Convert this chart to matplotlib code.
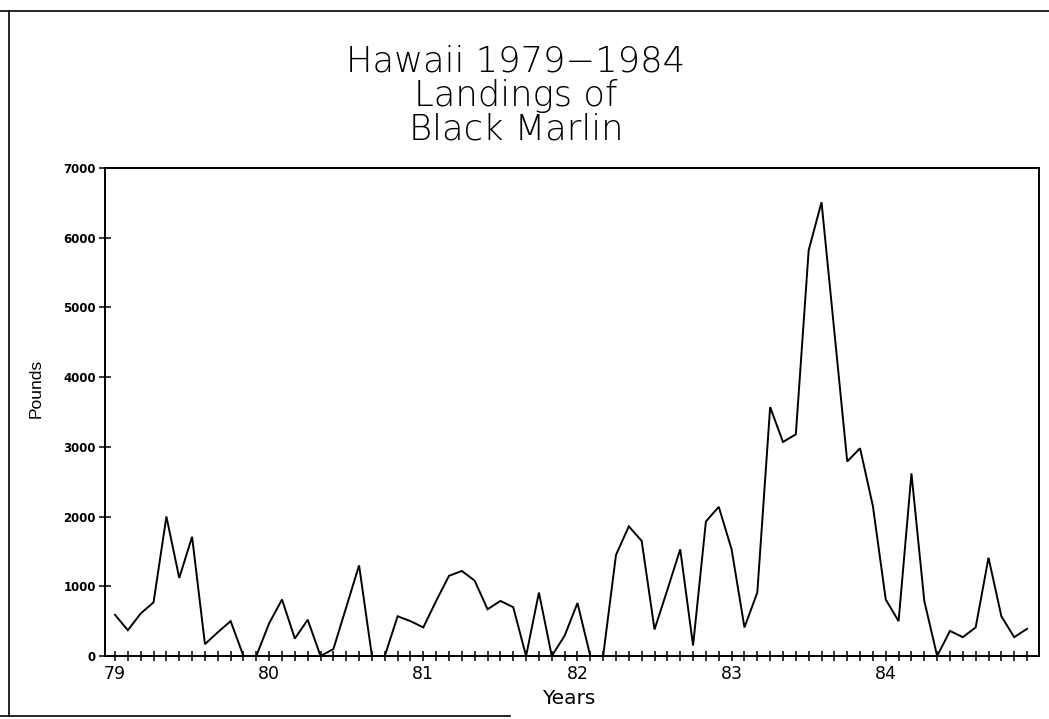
import matplotlib
matplotlib.use("Agg")
import matplotlib.pyplot as plt
from matplotlib.lines import Line2D
import numpy as np

# ---- data (monthly landings, Jan 1979 - Dec 1984) ----
pounds = [590, 370, 610, 770, 2000, 1120, 1710, 170, 340, 500, 0, 0,
          470, 810, 250, 520, 0, 100, 700, 1300, 0, 0, 570, 500,
          410, 790, 1150, 1220, 1080, 670, 790, 700, 0, 910, 0, 290,
          760, 0, 0, 1450, 1860, 1650, 380, 950, 1530, 150, 1930, 2140,
          1530, 410, 910, 3570, 3070, 3180, 5820, 6510, 4650, 2790, 2980, 2150,
          810, 500, 2620, 790, 0, 360, 270, 410, 1410, 570, 270, 390]
start_year = 79
year_labels = ["79", "80", "81", "82", "83", "84"]
y_ticks = [0, 1000, 2000, 3000, 4000, 5000, 6000, 7000]

title_lines = ["Hawaii 1979\u22121984", "Landings of", "Black Marlin"]

W, H = 1049, 719
fig = plt.figure(figsize=(W / 100, H / 100), dpi=100)
fig.patch.set_facecolor("white")

ax = fig.add_axes([105 / W, 1 - 656 / H, 934 / W, 488 / H])

months = np.arange(len(pounds))
x = start_year + months / 12.0
ax.plot(x, pounds, color="black", lw=1.4, solid_joinstyle="miter")

ax.set_xlim(start_year - 0.78 / 12, start_year + 71.93 / 12)
ax.set_ylim(0, 7000)

years = [start_year + i for i in range(len(year_labels))]
ax.set_xticks(years)
ax.set_xticklabels(year_labels)
ax.set_xticks(x, minor=True)
ax.set_yticks(y_ticks)
ax.set_yticklabels([str(v) for v in y_ticks])

ax.tick_params(axis="x", which="both", direction="inout", length=7, width=1.1,
               colors="black", pad=3)
ax.tick_params(axis="x", which="major", labelsize=12.5)
ax.tick_params(axis="y", which="major", direction="inout", length=9, width=1.1,
               pad=2, labelsize=8.5)
for lbl in ax.get_yticklabels():
    lbl.set_fontweight("bold")

for s in ax.spines.values():
    s.set_linewidth(1.4)
    s.set_color("black")

ax.set_xlabel("Years", fontsize=14.5)
ax.xaxis.set_label_coords((569 - 105) / 934, (656 - 689) / 488)
ax.set_ylabel("Pounds", fontsize=12.5, family="Liberation Sans")
ax.yaxis.set_label_coords((44 - 105) / 934, (656 - 388) / 488)

# title lines
title_y = [71, 106, 140]
for t, yy in zip(title_lines, title_y):
    fig.text(516 / W, 1 - yy / H, t, ha="center", va="baseline",
             fontsize=25.5, color="black", fontweight="light")

# page frame
fig.add_artist(Line2D([0, 1], [1 - 11 / H, 1 - 11 / H], color="black", lw=1.2,
                      transform=fig.transFigure))
fig.add_artist(Line2D([9 / W, 9 / W], [1 - 11 / H, 1 - 716 / H], color="black",
                      lw=1.2, transform=fig.transFigure))
fig.add_artist(Line2D([0, 510 / W], [1 - 716 / H, 1 - 716 / H], color="black",
                      lw=1.2, transform=fig.transFigure))

fig.savefig("out.png", dpi=100, facecolor="white")
